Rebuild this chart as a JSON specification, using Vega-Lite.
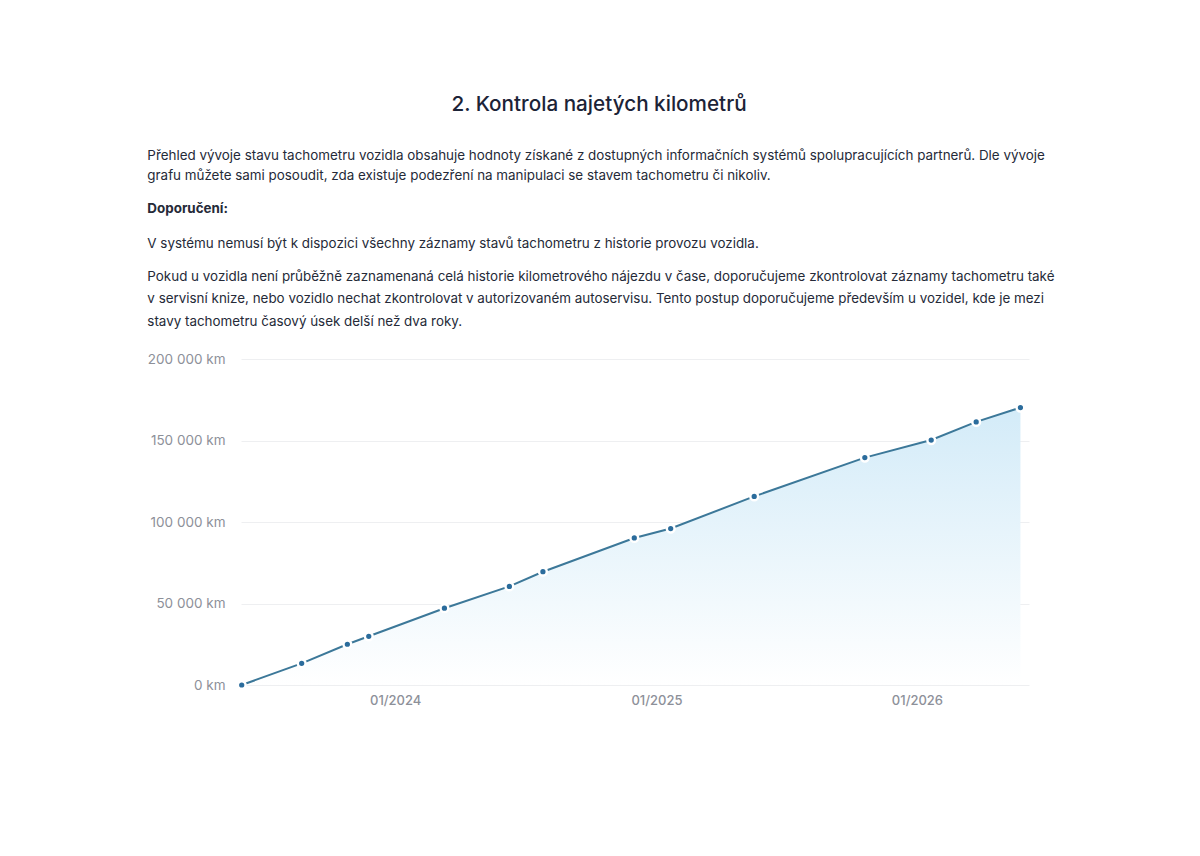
{
  "$schema": "https://vega.github.io/schema/vega-lite/v6.json",
  "background": "white",
  "padding": {"top": 93, "left": 147, "right": 10, "bottom": 10},
  "config": {
    "font": "Inter",
    "view": {"stroke": null},
    "concat": {"spacing": 0}
  },
  "title": {
    "text": "2. Kontrola najetých kilometrů",
    "anchor": "middle",
    "frame": "group",
    "font": "Inter",
    "fontSize": 20.7,
    "fontWeight": 500,
    "color": "#1c2337",
    "offset": 34,
    "dx": -36
  },
  "vconcat": [
    {
      "title": {
        "text": [
          "Přehled vývoje stavu tachometru vozidla obsahuje hodnoty získané z dostupných informačních systémů spolupracujících partnerů. Dle vývoje",
          "grafu můžete sami posoudit, zda existuje podezření na manipulaci se stavem tachometru či nikoliv."
        ],
        "subtitle": "Doporučení:",
        "anchor": "start",
        "frame": "bounds",
        "font": "Inter",
        "fontSize": 13.4,
        "fontWeight": "normal",
        "color": "#252a38",
        "lineHeight": 20,
        "subtitleFont": "Inter",
        "subtitleFontSize": 13.4,
        "subtitleFontWeight": "bold",
        "subtitleColor": "#252a38",
        "subtitleLineHeight": 20,
        "subtitlePadding": 19,
        "offset": 22
      },
      "vconcat": [
        {
          "title": {
            "text": "V systému nemusí být k dispozici všechny záznamy stavů tachometru z historie provozu vozidla.",
            "subtitle": [
              "Pokud u vozidla není průběžně zaznamenaná celá historie kilometrového nájezdu v čase, doporučujeme zkontrolovat záznamy tachometru také",
              "v servisní knize, nebo vozidlo nechat zkontrolovat v autorizovaném autoservisu. Tento postup doporučujeme především u vozidel, kde je mezi",
              "stavy tachometru časový úsek delší než dva roky."
            ],
            "anchor": "start",
            "frame": "bounds",
            "font": "Inter",
            "fontSize": 13.4,
            "fontWeight": "normal",
            "color": "#252a38",
            "lineHeight": 20,
            "subtitleFont": "Inter",
            "subtitleFontSize": 13.4,
            "subtitleFontWeight": "normal",
            "subtitleColor": "#252a38",
            "subtitleLineHeight": 22.5,
            "subtitlePadding": 19,
            "offset": 24
          },
          "width": 788,
          "height": 326,
          "data": {
            "values": [
              {"date": "2023-05-31", "km": 0},
              {"date": "2023-08-23", "km": 13300},
              {"date": "2023-10-26", "km": 25000},
              {"date": "2023-11-25", "km": 29900},
              {"date": "2024-03-10", "km": 47100},
              {"date": "2024-06-09", "km": 60500},
              {"date": "2024-07-26", "km": 69500},
              {"date": "2024-12-01", "km": 90200},
              {"date": "2025-01-21", "km": 96000},
              {"date": "2025-05-18", "km": 115700},
              {"date": "2025-10-20", "km": 139500},
              {"date": "2026-01-21", "km": 150300},
              {"date": "2026-03-25", "km": 161400},
              {"date": "2026-05-26", "km": 170200}
            ]
          },
          "encoding": {
            "x": {
              "field": "date",
              "type": "temporal",
              "scale": {"type": "utc", "domain": [{"year": 2023, "month": 5, "date": 30, "utc": true}, {"year": 2026, "month": 6, "date": 7, "utc": true}]},
              "axis": {
                "title": null,
                "format": "%m/%Y",
                "values": [
                  {"year": 2024, "month": 1, "date": 1, "utc": true},
                  {"year": 2025, "month": 1, "date": 1, "utc": true},
                  {"year": 2026, "month": 1, "date": 1, "utc": true}
                ],
                "grid": false,
                "domain": false,
                "ticks": false,
                "labelColor": "#8d9099",
                "labelFontSize": 13,
                "labelFontWeight": 500,
                "labelFont": "Inter",
                "labelPadding": 9
              }
            },
            "y": {
              "field": "km",
              "type": "quantitative",
              "scale": {"domain": [0, 200000], "nice": false},
              "axis": {
                "title": null,
                "values": [0, 50000, 100000, 150000, 200000],
                "labelExpr": "replace(format(datum.value, ','), ',', ' ') + ' km'",
                "grid": true,
                "gridColor": "#eeeff1",
                "gridWidth": 1,
                "domain": false,
                "ticks": false,
                "labelColor": "#8d9099",
                "labelFontSize": 13.5,
                "labelFont": "Inter",
                "labelPadding": 16
              }
            }
          },
          "layer": [
            {
              "mark": {
                "type": "area",
                "color": {
                  "gradient": "linear",
                  "x1": 0, "y1": 0, "x2": 0, "y2": 1,
                  "stops": [
                    {"offset": 0, "color": "#d3ebf8"},
                    {"offset": 1, "color": "#ffffff"}
                  ]
                }
              }
            },
            {
              "mark": {"type": "line", "color": "#3c7899", "strokeWidth": 2}
            },
            {
              "mark": {"type": "point", "filled": true, "color": "#2b6c9c", "size": 60, "opacity": 1, "stroke": "white", "strokeWidth": 2.5, "strokeOpacity": 1}
            }
          ]
        }
      ]
    }
  ]
}
